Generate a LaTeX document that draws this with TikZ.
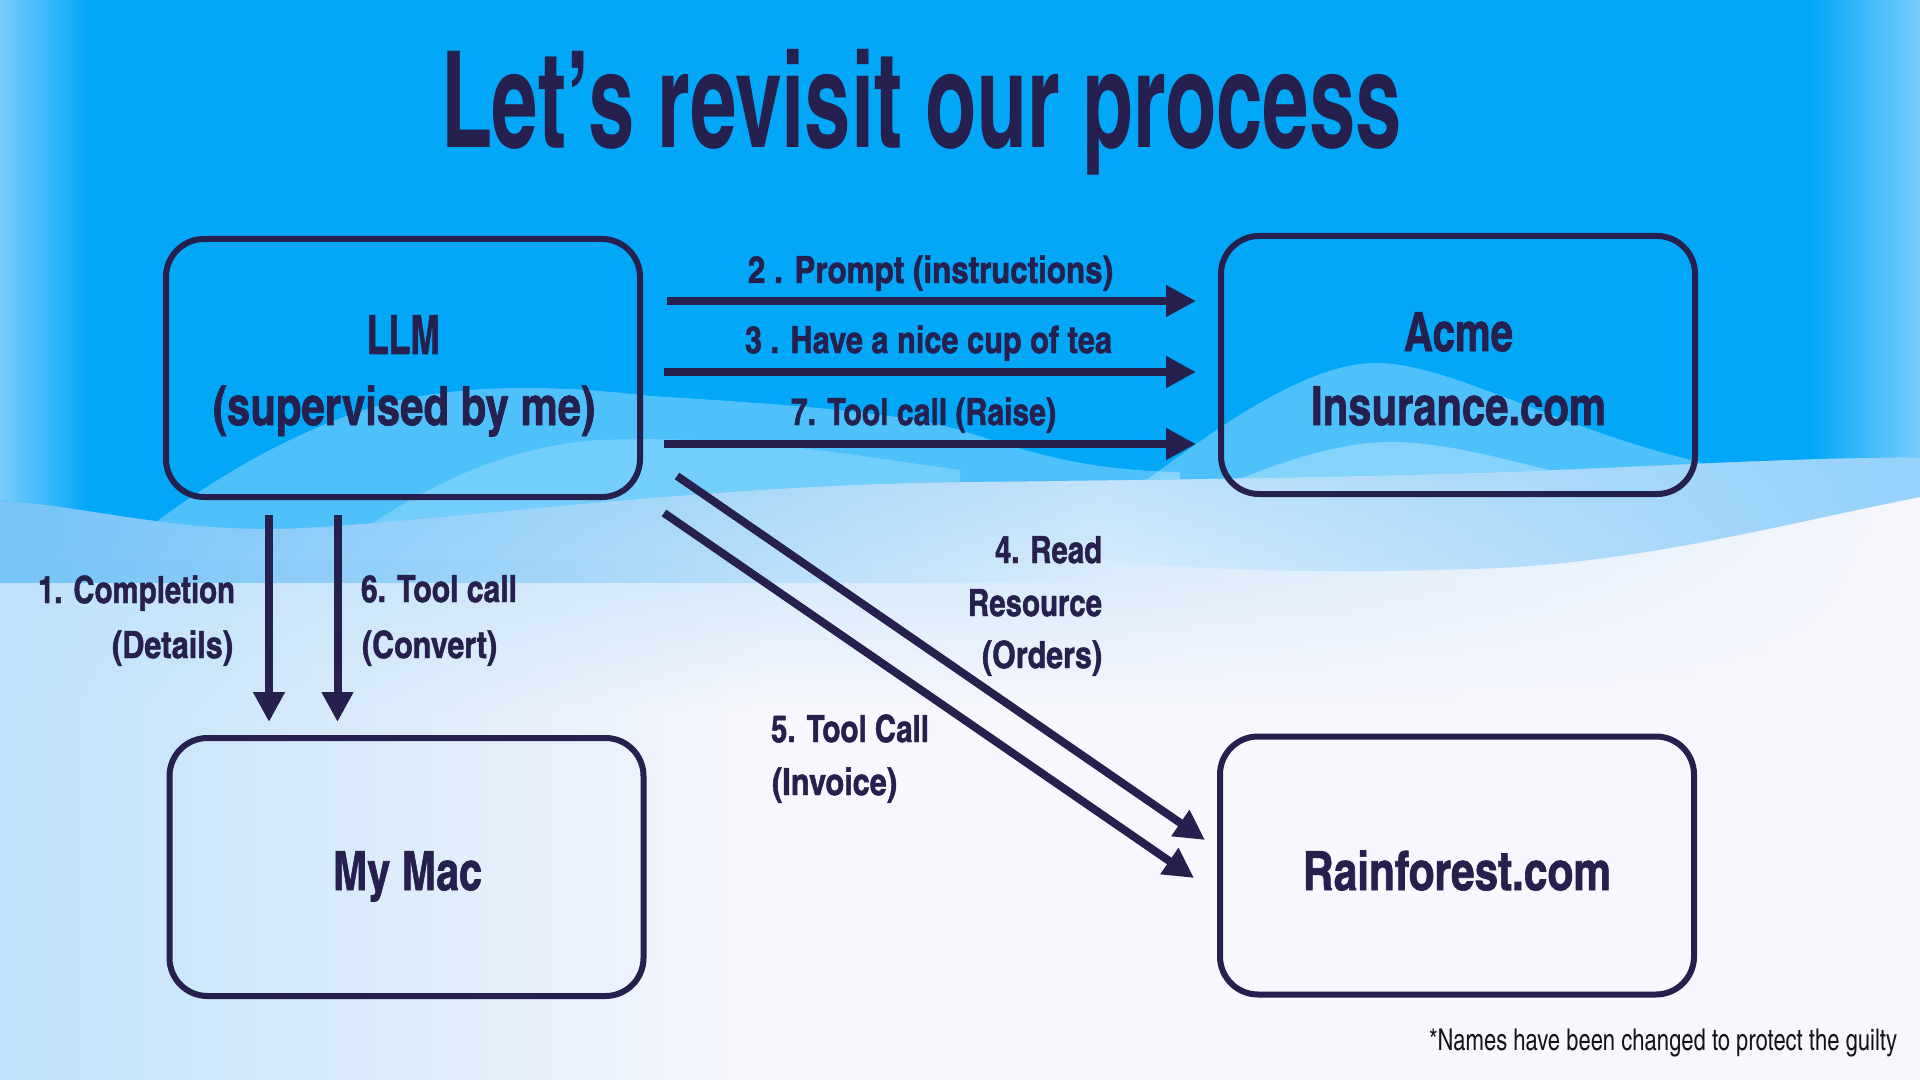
\documentclass[tikz,border=0pt]{standalone}
\usepackage{fontspec}
\usepackage{graphicx}
\usetikzlibrary{arrows.meta,calc,fadings}
\IfFontExistsTF{texgyreheroscn-bold.otf}{%
  \newfontfamily\hbold{texgyreheroscn-bold.otf}%
  \newfontfamily\hboldx{texgyreheroscn-bold.otf}[FakeBold=1.2]%
  \newfontfamily\hreg{texgyreheroscn-regular.otf}%
}{%
  \newfontfamily\hbold{DejaVu Sans Condensed Bold}%
  \newfontfamily\hboldx{DejaVu Sans Condensed Bold}%
  \newfontfamily\hreg{DejaVu Sans Condensed}%
}
\definecolor{navy}{RGB}{37,32,77}
\definecolor{inkblack}{RGB}{20,20,26}
\definecolor{bgw}{RGB}{247,247,253}
\definecolor{sky}{RGB}{2,167,248}
\definecolor{skyedge}{RGB}{120,205,253}
\definecolor{bandL}{RGB}{118,196,248}
\definecolor{bandR}{RGB}{150,210,250}
\definecolor{soft}{RGB}{185,224,250}
\definecolor{glow}{RGB}{192,226,250}
\newsavebox\fitbox
\newcommand\fitw[2]{\sbox\fitbox{#2}\edef\fitfac{\fpeval{(#1)/(\the\wd\fitbox)}}\scalebox{\fitfac}[1]{\usebox\fitbox}}
\tikzfading[name=fadeR, left color=transparent!0, right color=transparent!100]
\tikzfading[name=fadeL, left color=transparent!100, right color=transparent!0]
\tikzfading[name=fadeD, top color=transparent!0, bottom color=transparent!100]
\tikzfading[name=fadeRhalf, left color=transparent!0, middle color=transparent!0, right color=transparent!100]
\tikzfading[name=fadeLhalf, left color=transparent!100, middle color=transparent!0, right color=transparent!0]
\begin{document}
\begin{tikzpicture}[x=0.5pt,y=-0.5pt,
  box/.style={draw=navy, line width=3pt, rounded corners=19pt, minimum width=237pt,
    minimum height=129pt, inner sep=0pt, outer sep=0pt},
  txt/.style={inner sep=0pt, outer sep=0pt, text=navy},
  titletxt/.style={txt, font=\hbold\fontsize{67pt}{67pt}\selectfont},
  boxtxt/.style={txt, font=\hboldx\fontsize{27pt}{27pt}\selectfont},
  lbl/.style={txt, font=\hboldx\fontsize{18.8pt}{18.8pt}\selectfont},
  note/.style={inner sep=0pt, outer sep=0pt, text=inkblack, font=\hreg\fontsize{15pt}{15pt}\selectfont},
  arr/.style={draw=navy, line width=4pt, -{Triangle[length=15pt,width=15pt]}}]
\useasboundingbox (0,0) rectangle (1920,1080);
% ---------- background ----------
\fill[bgw] (0,0) rectangle (1920,1080);
\fill[soft, path fading=fadeD] (0,440) rectangle (1920,710);
\fill[bgw, path fading=fadeLhalf] (1000,560) -- (1100,560)
  .. controls (1250,575) and (1400,572) .. (1500,568)
  .. controls (1650,560) and (1780,525) .. (1920,497) -- (1920,730) -- (1000,730) -- cycle;
\fill[glow, path fading=fadeR] (0,560) rectangle (760,1080);
\fill[bandL, path fading=fadeRhalf] (0,460) -- (1100,460) -- (1100,583) -- (0,583) -- cycle;
\fill[bandR, path fading=fadeLhalf] (1100,440) -- (1920,440) -- (1920,497)
  .. controls (1780,525) and (1650,560) .. (1500,568)
  .. controls (1400,572) and (1250,575) .. (1100,560) -- cycle;
\fill[sky] (0,0) -- (1920,0) -- (1920,457)
  .. controls (1780,458) and (1620,468) .. (1500,472)
  .. controls (1350,477) and (1150,480) .. (960,482)
  .. controls (700,485) and (450,520) .. (300,528)
  .. controls (180,534) and (80,505) .. (0,500) -- cycle;
\begin{scope}
  \clip (0,0) -- (1920,0) -- (1920,457)
  .. controls (1780,458) and (1620,468) .. (1500,472)
  .. controls (1350,477) and (1150,480) .. (960,482)
  .. controls (700,485) and (450,520) .. (300,528)
  .. controls (180,534) and (80,505) .. (0,500) -- cycle;
  \fill[skyedge, path fading=fadeR] (0,0) rectangle (90,560);
  \fill[skyedge, path fading=fadeL] (1810,0) rectangle (1920,560);
  \fill[white, opacity=0.3] (60,600) .. controls (150,520) and (260,440) .. (380,405)
    .. controls (460,383) and (560,385) .. (650,396)
    .. controls (800,405) and (900,413) .. (960,430)
    .. controls (1030,452) and (1080,470) .. (1180,472) -- (1180,620) -- (60,620) -- cycle;
  \fill[white, opacity=0.22] (280,600) .. controls (380,500) and (500,445) .. (600,440)
    .. controls (750,435) and (850,455) .. (960,470) -- (960,620) -- cycle;
  \fill[white, opacity=0.3] (1120,500) .. controls (1200,440) and (1300,363) .. (1376,363)
    .. controls (1450,363) and (1560,430) .. (1700,462) -- (1700,620) -- (1120,620) -- cycle;
  \fill[white, opacity=0.3] (1150,520) .. controls (1250,470) and (1330,442) .. (1390,442)
    .. controls (1460,442) and (1540,470) .. (1650,495) -- (1650,620) -- cycle;
\end{scope}
% ---------- title ----------
\node[titletxt, anchor=base] (title) at (921.5,148) {\fitw{480.5pt}{Let’s revisit our process}};
% ---------- boxes ----------
\node[box] (LLM) at (403,368) {};
\node[box] (Acme) at (1458,365) {};
\node[box] (Mac) at (406.5,867) {};
\node[box] (Rain) at (1457,865.5) {};
\node[boxtxt, anchor=base] (LLMa) at (403.5,354) {\fitw{36.5pt}{LLM}};
\node[boxtxt, anchor=base] (LLMb) at (404,425) {\fitw{191pt}{(supervised by me)}};
\node[boxtxt, anchor=base] (Acmea) at (1458.5,351) {\fitw{54.5pt}{Acme}};
\node[boxtxt, anchor=base] (Acmeb) at (1458.5,425) {\fitw{147.5pt}{Insurance.com}};
\node[boxtxt, anchor=base] (Maca) at (407.5,890) {\fitw{74.5pt}{My Mac}};
\node[boxtxt, anchor=base] (Raina) at (1457,890) {\fitw{154pt}{Rainforest.com}};
% ---------- connectors ----------
\draw[arr] ($(LLM.east)+(27,-67)$) -- ($(Acme.west)+(-25,-64)$);
\draw[arr] ($(LLM.east)+(24,4)$) -- ($(Acme.west)+(-25,7)$);
\draw[arr] ($(LLM.east)+(24,76)$) -- ($(Acme.west)+(-25,79)$);
\draw[arr] ($(LLM.south)+(-134,18)$) -- ($(Mac.north)+(-137.5,-16)$);
\draw[arr] ($(LLM.south)+(-65.5,18)$) -- ($(Mac.north)+(-69,-16)$);
\draw[arr] ($(LLM.east)+(37,108)$) -- ($(Rain.west)+(-15,-25.5)$);
\draw[arr] ($(LLM.east)+(24,145)$) -- ($(Rain.west)+(-26,12.5)$);
% ---------- labels ----------
\node[lbl, anchor=base] (l2) at (930.5,283) {\fitw{182.5pt}{2 . Prompt (instructions)}};
\node[lbl, anchor=base] (l3) at (928.5,353) {\fitw{183.5pt}{3 . Have a nice cup of tea}};
\node[lbl, anchor=base] (l7) at (923.5,425) {\fitw{132.5pt}{7. Tool call (Raise)}};
\node[lbl, anchor=base east] (l1a) at (235,603) {\fitw{98.5pt}{1. Completion}};
\node[lbl, anchor=base east] (l1b) at (233,658) {\fitw{60.5pt}{(Details)}};
\node[lbl, anchor=base west] (l6a) at (361,602) {\fitw{78pt}{6. Tool call}};
\node[lbl, anchor=base west] (l6b) at (362,658) {\fitw{67.5pt}{(Convert)}};
\node[lbl, anchor=base east] (l4a) at (1102,563) {\fitw{53.5pt}{4. Read}};
\node[lbl, anchor=base east] (l4b) at (1102,616) {\fitw{67pt}{Resource}};
\node[lbl, anchor=base east] (l4c) at (1102,668) {\fitw{60pt}{(Orders)}};
\node[lbl, anchor=base west] (l5a) at (771,742) {\fitw{79pt}{5. Tool Call}};
\node[lbl, anchor=base west] (l5b) at (772,795) {\fitw{62.5pt}{(Invoice)}};
% ---------- footnote ----------
\node[note, anchor=base west] (fn) at (1429,1050) {\fitw{234pt}{*Names have been changed to protect the guilty}};
\end{tikzpicture}
\end{document}
